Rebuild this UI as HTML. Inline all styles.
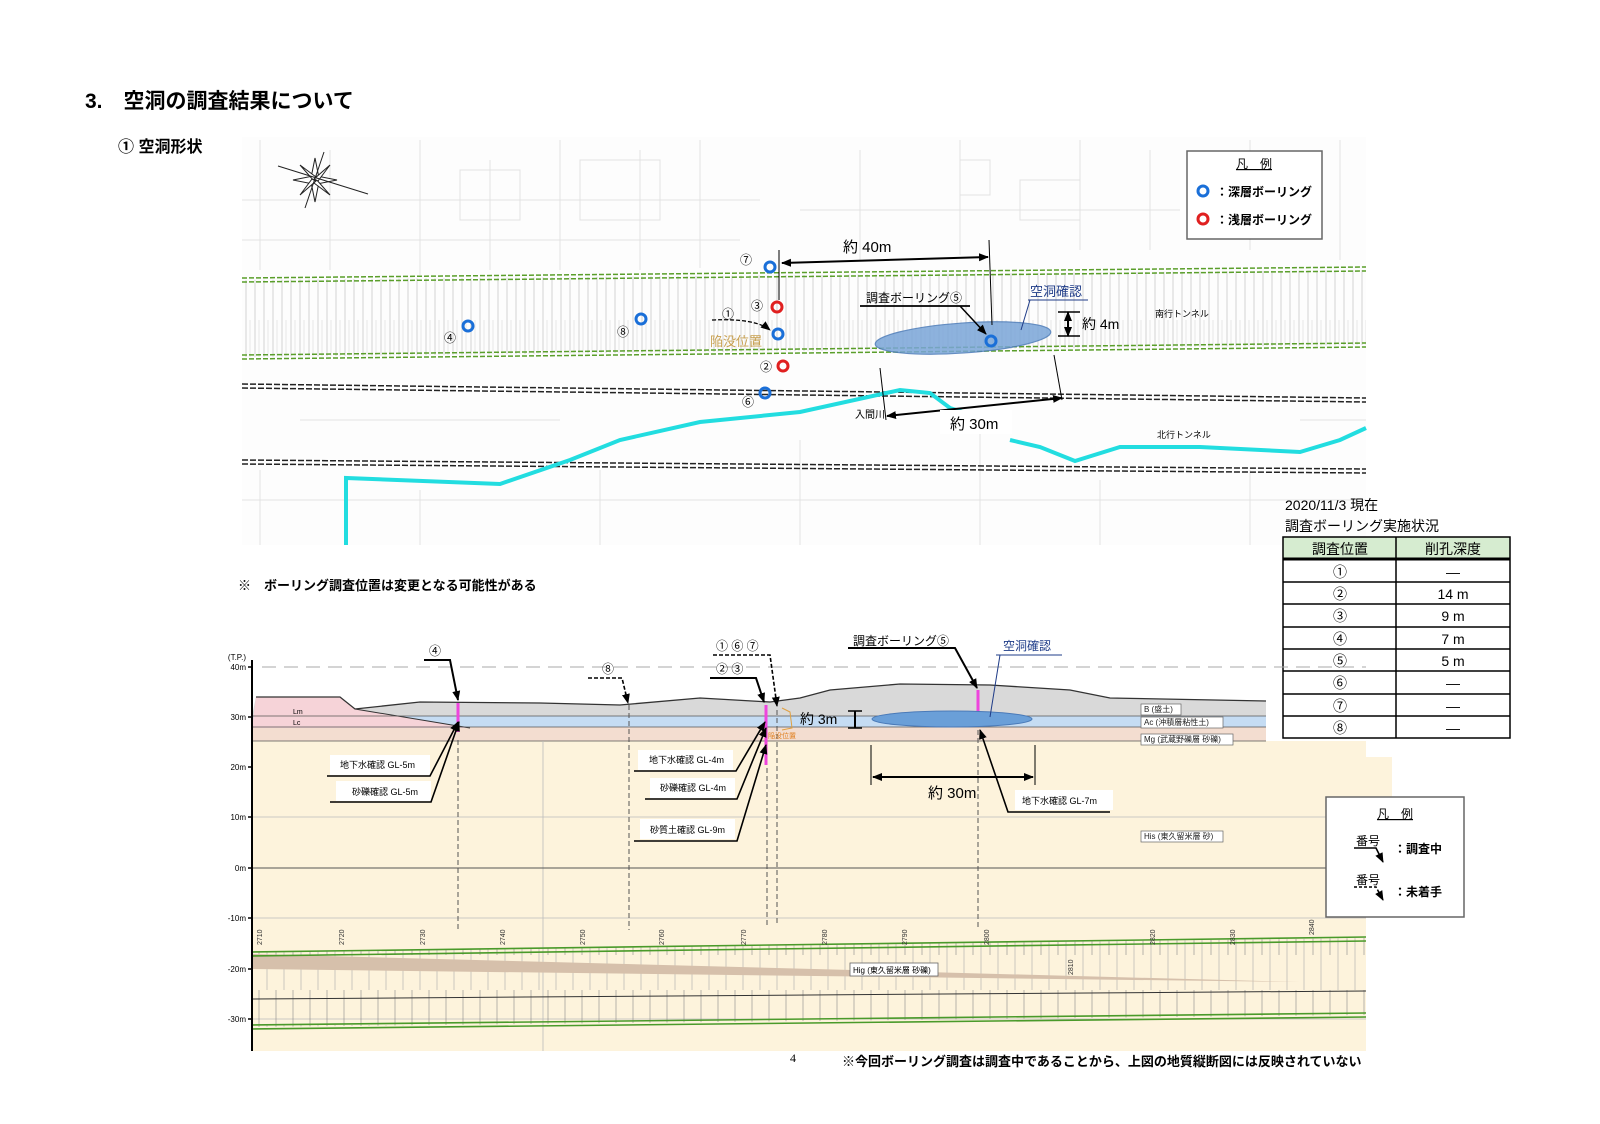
<!DOCTYPE html>
<html><head><meta charset="utf-8"><style>
body{margin:0;background:#fff}
svg{display:block;font-family:"Liberation Sans","Noto Sans CJK JP",sans-serif}
</style></head><body>
<svg width="1600" height="1124" viewBox="0 0 1600 1124" xmlns="http://www.w3.org/2000/svg">
<defs>
<pattern id="hv" width="9" height="100" patternUnits="userSpaceOnUse"><line x1="3" y1="0" x2="3" y2="100" stroke="#999" stroke-width="0.6"/><line x1="7" y1="20" x2="7" y2="70" stroke="#bbb" stroke-width="0.5"/></pattern>
<pattern id="hv2" width="17" height="90" patternUnits="userSpaceOnUse"><line x1="4" y1="0" x2="4" y2="55" stroke="#888" stroke-width="0.6"/><line x1="12" y1="35" x2="12" y2="90" stroke="#aaa" stroke-width="0.6"/></pattern>
<marker id="ar" markerUnits="userSpaceOnUse" markerWidth="10" markerHeight="10" refX="9" refY="5" orient="auto"><path d="M0,1 L10,5 L0,9 z" fill="#000"/></marker>
<marker id="ar2" markerUnits="userSpaceOnUse" markerWidth="10" markerHeight="10" refX="1" refY="5" orient="auto"><path d="M10,1 L0,5 L10,9 z" fill="#000"/></marker>
</defs>
<text x="85" y="108" font-size="21" font-weight="bold">3.　空洞の調査結果について</text>
<text x="118" y="152" font-size="16" font-weight="bold">① 空洞形状</text>

<!-- map -->
<g>
<rect x="242" y="137" width="1124" height="408" fill="#fdfdfd"/>
<g stroke="#e2e2e2" stroke-width="1" fill="none">
<path d="M260,140 V270 M330,150 V270 M420,140 V275 M490,160 V270 M560,140 V270 M640,150 V270 M700,140 V268 M860,150 V260 M960,140 V255 M1080,140 V250 M1150,150 V250 M1250,140 V250 M1340,140 V260"/>
<path d="M242,200 H760 M242,240 H740 M800,210 H1180 M242,500 H1366 M300,420 H560 M260,470 V545 M420,490 V545 M600,470 V545 M800,440 V545 M980,430 V545 M1100,480 V545 M1250,470 V545 M1300,420 H1366"/>
<rect x="460" y="170" width="60" height="50"/><rect x="580" y="160" width="80" height="60"/><rect x="960" y="160" width="30" height="35"/><rect x="1020" y="180" width="60" height="40"/>
</g>
<polygon points="242,280 1366,270 1366,345 242,357" fill="url(#hv)" opacity="0.7"/>
<g stroke="#5a9e2a" stroke-width="1.5" stroke-dasharray="5,2">
<line x1="242" y1="278" x2="1366" y2="267"/><line x1="242" y1="282" x2="1366" y2="271"/>
<line x1="242" y1="355" x2="1366" y2="343"/><line x1="242" y1="359" x2="1366" y2="347"/>
</g>
<g stroke="#222" stroke-width="1.5" stroke-dasharray="6,2">
<line x1="242" y1="384" x2="1366" y2="398"/><line x1="242" y1="388" x2="1366" y2="402"/>
<line x1="242" y1="460" x2="1366" y2="469"/><line x1="242" y1="464" x2="1366" y2="473"/>
</g>
<polyline points="346,545 346,478 500,484 570,460 620,440 700,422 800,412 900,390 930,393 950,408 972,415" fill="none" stroke="#22dde0" stroke-width="4"/>
<polyline points="1010,440 1040,447 1075,461 1120,447 1200,447 1300,452 1340,440 1366,428" fill="none" stroke="#22dde0" stroke-width="4"/>
<!-- compass -->
<g stroke="#222" stroke-width="1" fill="#fff">
<polygon points="315,158 319,178 315,182 311,178"/><polygon points="315,202 311,182 315,178 319,182"/>
<polygon points="293,180 313,176 317,180 313,184"/><polygon points="337,180 317,184 313,180 317,176"/>
<polygon points="300,165 316,177 314,181"/><polygon points="330,195 314,183 316,179"/>
<polygon points="330,165 318,181 314,179"/><polygon points="300,195 312,179 316,181"/>
<line x1="278" y1="166" x2="368" y2="194"/><line x1="305" y1="208" x2="324" y2="152"/>
</g>
<!-- legend -->
<rect x="1187" y="151" width="135" height="88" fill="#fff" stroke="#666" stroke-width="1.5"/>
<text x="1254" y="168" font-size="12" text-anchor="middle" text-decoration="underline">凡　例</text>
<circle cx="1203" cy="191" r="5" fill="none" stroke="#1a6fd8" stroke-width="3"/>
<text x="1216" y="196" font-size="12" font-weight="bold">：深層ボーリング</text>
<circle cx="1203" cy="219" r="5" fill="none" stroke="#e02020" stroke-width="3"/>
<text x="1216" y="224" font-size="12" font-weight="bold">：浅層ボーリング</text>
<!-- ellipse -->
<ellipse cx="963" cy="338" rx="88" ry="15" transform="rotate(-4 963 338)" fill="#7aa6d8" stroke="#4a7ab8" stroke-width="1.2" opacity="0.85"/>
<!-- circles -->
<g fill="none" stroke-width="3">
<circle cx="770" cy="267" r="5" stroke="#1a6fd8"/><circle cx="777" cy="307" r="5" stroke="#e02020"/>
<circle cx="778" cy="334" r="5" stroke="#1a6fd8"/><circle cx="783" cy="366" r="5" stroke="#e02020"/>
<circle cx="765" cy="393" r="5" stroke="#1a6fd8"/><circle cx="468" cy="326" r="5" stroke="#1a6fd8"/>
<circle cx="641" cy="319" r="5" stroke="#1a6fd8"/><circle cx="991" cy="341" r="5" stroke="#1a6fd8"/>
</g>
<g font-size="12">
<text x="740" y="264">⑦</text><text x="751" y="310">③</text><text x="722" y="318">①</text>
<text x="760" y="371">②</text><text x="742" y="406">⑥</text><text x="444" y="342">④</text><text x="617" y="336">⑧</text>
</g>
<text x="710" y="346" font-size="13" fill="#c8a050">陥没位置</text>
<path d="M712,320 Q755,318 770,330" fill="none" stroke="#000" stroke-width="1.3" stroke-dasharray="4,2" marker-end="url(#ar)"/>
<!-- dims -->
<line x1="779" y1="250" x2="779" y2="300" stroke="#000" stroke-width="1"/>
<line x1="989" y1="240" x2="992" y2="325" stroke="#000" stroke-width="1"/>
<line x1="782" y1="263" x2="988" y2="257" stroke="#000" stroke-width="2" marker-start="url(#ar2)" marker-end="url(#ar)"/>
<text x="843" y="252" font-size="15">約 40m</text>
<line x1="1068" y1="324" x2="1068" y2="312" stroke="#000" stroke-width="2" marker-end="url(#ar)"/>
<line x1="1068" y1="322" x2="1068" y2="336" stroke="#000" stroke-width="2" marker-end="url(#ar)"/>
<line x1="1058" y1="312" x2="1080" y2="312" stroke="#000" stroke-width="1.5"/><line x1="1058" y1="336" x2="1080" y2="336" stroke="#000" stroke-width="1.5"/>
<text x="1082" y="329" font-size="14">約 4m</text>
<text x="1155" y="317" font-size="9">南行トンネル</text>
<text x="1157" y="438" font-size="9">北行トンネル</text>
<text x="866" y="302" font-size="12">調査ボーリング⑤</text>
<line x1="860" y1="306" x2="970" y2="306" stroke="#000" stroke-width="1.8"/>
<line x1="960" y1="306" x2="986" y2="334" stroke="#000" stroke-width="1.5" marker-end="url(#ar)"/>
<text x="1030" y="296" font-size="13" fill="#1f3c88">空洞確認</text>
<line x1="1028" y1="300" x2="1088" y2="300" stroke="#1f3c88" stroke-width="1"/>
<line x1="1030" y1="300" x2="1021" y2="330" stroke="#1f3c88" stroke-width="1"/>
<line x1="880" y1="368" x2="886" y2="420" stroke="#000" stroke-width="1"/>
<line x1="1054" y1="355" x2="1062" y2="400" stroke="#000" stroke-width="1"/>
<line x1="887" y1="416" x2="1062" y2="398" stroke="#000" stroke-width="2" marker-start="url(#ar2)" marker-end="url(#ar)"/>
<text x="855" y="418" font-size="10">入間川</text>
<rect x="940" y="410" width="72" height="24" fill="#fff"/>
<text x="950" y="429" font-size="15">約 30m</text>
</g>

<!-- table -->
<text x="1285" y="510" font-size="14">2020/11/3 現在</text>
<text x="1285" y="531" font-size="14">調査ボーリング実施状況</text>
<rect x="1283" y="537" width="227" height="22" fill="#d6ecd0"/>
<g stroke="#000" stroke-width="1.5" fill="none">
<rect x="1283" y="537" width="227" height="201"/>
<line x1="1396" y1="537" x2="1396" y2="738"/>
<line x1="1283" y1="559" x2="1510" y2="559" stroke-width="3"/>
<line x1="1283" y1="582" x2="1510" y2="582"/><line x1="1283" y1="604" x2="1510" y2="604"/>
<line x1="1283" y1="627" x2="1510" y2="627"/><line x1="1283" y1="649" x2="1510" y2="649"/>
<line x1="1283" y1="671" x2="1510" y2="671"/><line x1="1283" y1="694" x2="1510" y2="694"/>
<line x1="1283" y1="716" x2="1510" y2="716"/>
</g>
<g font-size="14" text-anchor="middle">
<text x="1340" y="554">調査位置</text><text x="1453" y="554">削孔深度</text>
<text x="1340" y="577">①</text><text x="1453" y="577">—</text>
<text x="1340" y="599">②</text><text x="1453" y="599">14 m</text>
<text x="1340" y="621">③</text><text x="1453" y="621">9 m</text>
<text x="1340" y="644">④</text><text x="1453" y="644">7 m</text>
<text x="1340" y="666">⑤</text><text x="1453" y="666">5 m</text>
<text x="1340" y="688">⑥</text><text x="1453" y="688">—</text>
<text x="1340" y="711">⑦</text><text x="1453" y="711">—</text>
<text x="1340" y="733">⑧</text><text x="1453" y="733">—</text>
</g>

<text x="238" y="590" font-size="13" font-weight="bold">※　ボーリング調査位置は変更となる可能性がある</text>

<!-- section -->
<g>
<rect x="252" y="741" width="1114" height="310" fill="#fdf3dc"/>
<rect x="1266" y="757" width="126" height="44" fill="#fdf3dc"/>
<rect x="252" y="727" width="1014" height="14" fill="#f3ddd0"/>
<rect x="252" y="716" width="1014" height="11" fill="#c5dcf3"/>
<path d="M256,697 L340,697 L355,709 L420,702 L540,703 L620,705 L700,698 L770,702 L800,698 L830,690 L900,684 L990,685 L1070,690 L1110,698 L1266,701 L1266,716 L252,716 Z" fill="#d9d9d9"/>
<path d="M256,697 L340,697 L355,709 L470,728 L252,728 Z" fill="#f6d3d8"/>
<path d="M256,697 L340,697 L355,709 L420,702 L540,703 L620,705 L700,698 L770,702 L800,698 L830,690 L900,684 L990,685 L1070,690 L1110,698 L1266,701" fill="none" stroke="#333" stroke-width="1.3"/>
<line x1="355" y1="709" x2="470" y2="728" stroke="#333" stroke-width="1"/>
<g stroke="#555" stroke-width="0.8">
<line x1="252" y1="716" x2="1266" y2="716"/><line x1="252" y1="727" x2="1266" y2="727"/><line x1="252" y1="741" x2="1266" y2="741"/>
</g>
<text x="293" y="714" font-size="7">Lm</text><text x="293" y="725" font-size="7">Lc</text>
<g stroke="#aaa" stroke-width="1" stroke-dasharray="14,8">
<line x1="262" y1="667" x2="1366" y2="667"/>
</g>
<g stroke="#bbb" stroke-width="0.8">
<line x1="252" y1="817" x2="1366" y2="817"/><line x1="252" y1="918" x2="1366" y2="918"/><line x1="252" y1="1019" x2="1366" y2="1019"/>
<line x1="543" y1="741" x2="543" y2="1051"/>
</g>
<line x1="252" y1="868" x2="1366" y2="868" stroke="#555" stroke-width="1"/>
<!-- lower band -->
<polygon points="252,952 1366,938 1366,1015 252,1027" fill="url(#hv2)"/>
<polygon points="252,954 1300,982 252,969" fill="#d6c0ab"/>
<g stroke="#4a9a2a" stroke-width="1.6">
<line x1="252" y1="952" x2="1366" y2="937"/><line x1="252" y1="956" x2="1366" y2="941"/>
<line x1="252" y1="1025" x2="1366" y2="1013"/><line x1="252" y1="1029" x2="1366" y2="1017"/>
</g>
<line x1="252" y1="999" x2="1366" y2="991" stroke="#333" stroke-width="1"/>
<rect x="850" y="963" width="88" height="13" fill="#fff" stroke="#666" stroke-width="0.8"/>
<text x="853" y="973" font-size="8">Hig (東久留米層 砂礫)</text>
<g font-size="7" fill="#333">
<text transform="translate(262,945) rotate(-90)">2710</text><text transform="translate(344,945) rotate(-90)">2720</text>
<text transform="translate(425,945) rotate(-90)">2730</text><text transform="translate(505,945) rotate(-90)">2740</text>
<text transform="translate(585,945) rotate(-90)">2750</text><text transform="translate(664,945) rotate(-90)">2760</text>
<text transform="translate(746,945) rotate(-90)">2770</text><text transform="translate(827,945) rotate(-90)">2780</text>
<text transform="translate(907,945) rotate(-90)">2790</text><text transform="translate(989,945) rotate(-90)">2800</text>
<text transform="translate(1155,945) rotate(-90)">2820</text><text transform="translate(1235,945) rotate(-90)">2830</text>
<text transform="translate(1314,935) rotate(-90)">2840</text><text transform="translate(1073,975) rotate(-90)">2810</text>
</g>
<!-- axis -->
<line x1="252" y1="660" x2="252" y2="1051" stroke="#000" stroke-width="2"/>
<g font-size="8" text-anchor="end">
<text x="246" y="660">(T.P.)</text>
<text x="246" y="670">40m</text><text x="246" y="720">30m</text><text x="246" y="770">20m</text><text x="246" y="820">10m</text>
<text x="246" y="871">0m</text><text x="246" y="921">-10m</text><text x="246" y="972">-20m</text><text x="246" y="1022">-30m</text>
</g>
<g stroke="#000" stroke-width="1.5"><line x1="248" y1="667" x2="252" y2="667"/><line x1="248" y1="717" x2="252" y2="717"/><line x1="248" y1="767" x2="252" y2="767"/><line x1="248" y1="817" x2="252" y2="817"/><line x1="248" y1="868" x2="252" y2="868"/><line x1="248" y1="918" x2="252" y2="918"/><line x1="248" y1="969" x2="252" y2="969"/><line x1="248" y1="1019" x2="252" y2="1019"/></g>
<!-- boreholes -->
<g stroke="#555" stroke-width="1" stroke-dasharray="5,3">
<line x1="458" y1="740" x2="458" y2="932"/><line x1="629" y1="705" x2="629" y2="930"/>
<line x1="767" y1="760" x2="767" y2="928"/><line x1="777" y1="710" x2="777" y2="925"/>
<line x1="978" y1="730" x2="978" y2="930"/>
</g>
<g stroke="#ee44dd" stroke-width="3">
<line x1="458" y1="703" x2="458" y2="732"/><line x1="766" y1="705" x2="766" y2="765"/><line x1="978" y1="690" x2="978" y2="727"/>
</g>
<ellipse cx="952" cy="719" rx="80" ry="8" fill="#6a9fd8" stroke="#4a7ab8"/>
<path d="M782,708 L790,712 L792,728 L782,730" fill="none" stroke="#e0a040" stroke-width="1"/>
<text x="768" y="738" font-size="7" fill="#e08020">陥没位置</text>
<!-- labels top -->
<g font-size="12">
<text x="429" y="655">④</text>
<text x="602" y="673">⑧</text>
<text x="716" y="650">① ⑥ ⑦</text>
<text x="716" y="673">② ③</text>
<text x="853" y="645">調査ボーリング⑤</text>
<text x="1003" y="650" fill="#1f3c88">空洞確認</text>
</g>
<g stroke="#000" stroke-width="2" fill="none">
<polyline points="424,660 450,660 458,700" marker-end="url(#ar)"/>
<polyline points="710,678 756,678 764,702" marker-end="url(#ar)"/>
<polyline points="848,648 955,648 977,688" marker-end="url(#ar)"/>
</g>
<g stroke="#000" stroke-width="1.6" fill="none" stroke-dasharray="4,2">
<polyline points="588,678 622,678 628,703" marker-end="url(#ar)"/>
<polyline points="713,655 770,655 777,706" marker-end="url(#ar)"/>
</g>
<polyline points="996,655 1062,655" stroke="#1f3c88" stroke-width="1" fill="none"/>
<line x1="1000" y1="655" x2="990" y2="717" stroke="#1f3c88" stroke-width="1"/>
<!-- 3m -->
<line x1="848" y1="711" x2="862" y2="711" stroke="#000" stroke-width="1.5"/><line x1="848" y1="728" x2="862" y2="728" stroke="#000" stroke-width="1.5"/>
<line x1="855" y1="711" x2="855" y2="728" stroke="#000" stroke-width="2"/>
<text x="800" y="724" font-size="14">約 3m</text>
<!-- 30m -->
<line x1="871" y1="745" x2="871" y2="785" stroke="#000" stroke-width="1"/><line x1="1035" y1="745" x2="1035" y2="785" stroke="#000" stroke-width="1"/>
<line x1="873" y1="777" x2="1033" y2="777" stroke="#000" stroke-width="2" marker-start="url(#ar2)" marker-end="url(#ar)"/>
<text x="928" y="798" font-size="15">約 30m</text>
<!-- layer labels -->
<g font-size="8" fill="#222">
<rect x="1141" y="704" width="40" height="11" fill="#fff" stroke="#666" stroke-width="0.7"/><text x="1144" y="712">B (盛土)</text>
<rect x="1141" y="717" width="82" height="11" fill="#fff" stroke="#666" stroke-width="0.7"/><text x="1144" y="725">Ac (沖積層粘性土)</text>
<rect x="1141" y="734" width="92" height="11" fill="#fff" stroke="#666" stroke-width="0.7"/><text x="1144" y="742">Mg (武蔵野礫層 砂礫)</text>
<rect x="1141" y="831" width="82" height="11" fill="#fff" stroke="#666" stroke-width="0.7"/><text x="1144" y="839">His (東久留米層 砂)</text>
</g>
<!-- callouts -->
<g font-size="9">
<rect x="330" y="755" width="100" height="20" fill="#fff"/><text x="340" y="768">地下水確認 GL-5m</text>
<rect x="336" y="781" width="95" height="20" fill="#fff"/><text x="352" y="795">砂礫確認 GL-5m</text>
<rect x="638" y="750" width="95" height="20" fill="#fff"/><text x="649" y="763">地下水確認 GL-4m</text>
<rect x="650" y="778" width="85" height="20" fill="#fff"/><text x="660" y="791">砂礫確認 GL-4m</text>
<rect x="640" y="819" width="95" height="20" fill="#fff"/><text x="650" y="833">砂質土確認 GL-9m</text>
<rect x="1015" y="790" width="98" height="20" fill="#fff"/><text x="1022" y="804">地下水確認 GL-7m</text>
</g>
<g stroke="#000" stroke-width="1.6" fill="none">
<polyline points="327,776 430,776 458,722" marker-end="url(#ar)"/>
<polyline points="330,802 431,802 459,722" marker-end="url(#ar)"/>
<polyline points="634,771 736,771 765,722" marker-end="url(#ar)"/>
<polyline points="645,799 737,799 766,728" marker-end="url(#ar)"/>
<polyline points="634,841 737,841 766,745" marker-end="url(#ar)"/>
<polyline points="1110,812 1008,812 980,730" marker-end="url(#ar)"/>
</g>
<!-- legend 2 -->
<rect x="1326" y="797" width="138" height="120" fill="#fff" stroke="#666" stroke-width="1.5"/>
<text x="1395" y="818" font-size="12" text-anchor="middle" text-decoration="underline">凡　例</text>
<text x="1356" y="845" font-size="12">番号</text>
<polyline points="1354,848 1376,848 1383,862" fill="none" stroke="#000" stroke-width="1.6" marker-end="url(#ar)"/>
<text x="1394" y="853" font-size="12" font-weight="bold">：調査中</text>
<text x="1356" y="884" font-size="12">番号</text>
<polyline points="1354,887 1376,887 1383,900" fill="none" stroke="#000" stroke-width="1.5" stroke-dasharray="3,2" marker-end="url(#ar)"/>
<text x="1394" y="896" font-size="12" font-weight="bold">：未着手</text>
</g>
<text x="790" y="1062" font-size="12" font-family="Liberation Serif">4</text>
<text x="842" y="1066" font-size="13" font-weight="bold">※今回ボーリング調査は調査中であることから、上図の地質縦断図には反映されていない</text>
</svg>
</body></html>
